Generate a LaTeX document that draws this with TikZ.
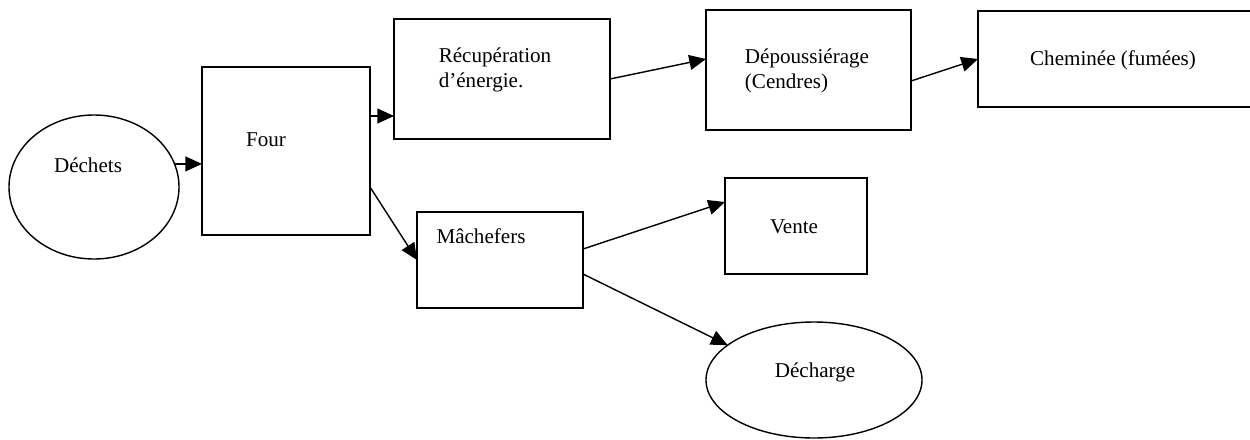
\documentclass[tikz,border=0pt]{standalone}
\usepackage{fontspec}
\setmainfont{Liberation Serif}
\usetikzlibrary{shapes.geometric, arrows.meta, positioning}
\tikzstyle{box} = [rectangle, draw=black, line width=0.8pt, outer sep=0pt, inner sep=0pt]
\tikzstyle{oval} = [ellipse, draw=black, line width=0.8pt, outer sep=0pt, inner sep=0pt]
\tikzstyle{txt} = [inner sep=0pt, align=left, font=\fontsize{12}{14}\selectfont]
\tikzstyle{arrow} = [line width=0.8pt, -{Triangle[length=9.5pt, width=8.5pt]}]

\begin{document}
\begin{tikzpicture}[x=0.2mm, y=-0.2mm]
  \useasboundingbox (0,0) rectangle (1250,439);
  \clip (0,0) rectangle (1250,439);

  \node (dechets) [oval, minimum width=34mm, minimum height=28.8mm] at (94,187) {};
  \node (four) [box, minimum width=33.6mm, minimum height=33.6mm] at (286,151) {};
  \node (recup) [box, minimum width=43.2mm, minimum height=24mm] at (502,79) {};
  \node (depous) [box, minimum width=41mm, minimum height=24mm] at (808.5,70) {};
  \node (chem) [box, minimum width=54.6mm, minimum height=19.2mm] at (1114.5,59) {};
  \node (mach) [box, minimum width=33.2mm, minimum height=19.2mm] at (500,260) {};
  \node (vente) [box, minimum width=28.4mm, minimum height=19.2mm] at (796,226) {};
  \node (decharge) [oval, minimum width=43.2mm, minimum height=23.2mm] at (814,380) {};

  \node (dechetsT) [txt] at (88,165) {Déchets};
  \node (fourT) [txt] at (266,140) {Four};
  \node (recupT) [txt] at (495,70) {Récupération\\d’énergie.};
  \node (depousT) [txt] at (807,71) {Dépoussiérage\\(Cendres)};
  \node (chemT) [txt] at (1113,60) {Cheminée (fumées)};
  \node (machT) [txt] at (481,236) {Mâchefers};
  \node (venteT) [txt] at (794,227) {Vente};
  \node (dechargeT) [txt] at (815,372) {Décharge};

  \draw [arrow] (dechets.16) -- (dechets.16 -| four.west);
  \draw [arrow] ([yshift=7mm]four.east) -- ([yshift=7mm]four.east -| recup.west);
  \draw [arrow] (recup.east) -- ([yshift=2.2mm]depous.west);
  \draw [arrow] ([yshift=-2.2mm]depous.east) -- (chem.west);
  \draw [arrow] ([yshift=-7.2mm]four.east) -- (mach.west);
  \draw [arrow] ([yshift=2.2mm]mach.east) -- ([yshift=4.8mm]vente.west);
  \draw [arrow] ([yshift=-2.8mm]mach.east) -- (decharge.158);
\end{tikzpicture}
\end{document}
